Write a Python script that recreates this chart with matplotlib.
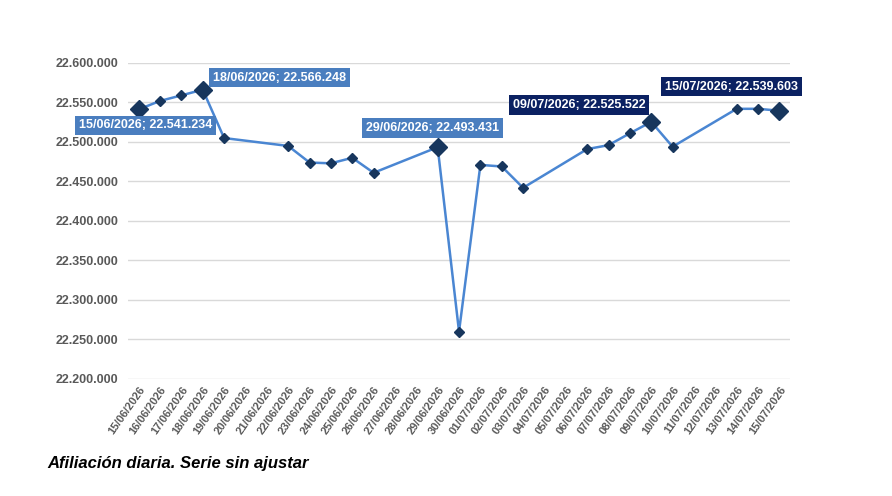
import numpy as np
import matplotlib.pyplot as plt
import datetime as dt

# data (working days only, weekends missing)
fechas = ["15/06/2026", "16/06/2026", "17/06/2026", "18/06/2026", "19/06/2026",
          "22/06/2026", "23/06/2026", "24/06/2026", "25/06/2026", "26/06/2026",
          "29/06/2026", "30/06/2026", "01/07/2026", "02/07/2026", "03/07/2026",
          "06/07/2026", "07/07/2026", "08/07/2026", "09/07/2026", "10/07/2026",
          "13/07/2026", "14/07/2026", "15/07/2026"]
afiliados = [22541234, 22552000, 22559000, 22566248, 22505000,
             22495000, 22474000, 22473000, 22480000, 22461000,
             22493431, 22260000, 22471000, 22469000, 22442000,
             22491000, 22496000, 22511000, 22525522, 22494000,
             22542000, 22542000, 22539603]

# every calendar day is a category on the axis
inicio = dt.date(2026, 6, 15)
dias = [inicio + dt.timedelta(days=k) for k in range(31)]
etiquetas_x = [d.strftime("%d/%m/%Y") for d in dias]
pos = [etiquetas_x.index(f) for f in fechas]

# highlighted points: (fecha, box colour, offset in px)
destacados = [("15/06/2026", "#4A7EBF", (7, -16)),
              ("18/06/2026", "#4A7EBF", (77, 12)),
              ("29/06/2026", "#4A7EBF", (-5, 19)),
              ("09/07/2026", "#0B2162", (-72, 17)),
              ("15/07/2026", "#0B2162", (-48, 24))]

plt.rcParams['font.family'] = ['Liberation Sans', 'DejaVu Sans']

fig = plt.figure(figsize=(8.92, 4.96), dpi=100)
ax = fig.add_axes([0.1435, 0.2359, 0.7422, 0.6371])

ax.plot(pos, afiliados, color="#4A86D2", lw=1.8, zorder=2)
ax.plot(pos, afiliados, ls="none", marker="D", ms=5, color="#17365D", zorder=3)

for f, col, off in destacados:
    i = fechas.index(f)
    ax.plot(pos[i], afiliados[i], marker="D", ms=9, color="#17365D", zorder=4)
    txt = f + "; " + f"{afiliados[i]:,}".replace(",", ".")
    ax.annotate(txt, (pos[i], afiliados[i]), xytext=off, textcoords="offset pixels",
                ha="center", va="center", color="white", fontsize=9, fontweight="bold",
                bbox=dict(boxstyle="square,pad=0.3", fc=col, ec="none"), zorder=5)

ax.set_xlim(-0.5, 30.5)
ax.set_ylim(22200000, 22600000)
ax.set_yticks(np.arange(22200000, 22600001, 50000))
ax.set_yticklabels([f"{int(v):,}".replace(",", ".") for v in ax.get_yticks()])
ax.set_xticks(range(31))
ax.set_xticklabels(etiquetas_x, rotation=55, ha="right", va="top", rotation_mode="anchor",
                   family=['Liberation Sans Narrow', 'Liberation Sans'])

ax.grid(axis="y", color="#D9D9D9", lw=1)
ax.set_axisbelow(True)
for s in ax.spines.values():
    s.set_visible(False)
ax.tick_params(length=0, colors="#595959")
ax.tick_params(axis="y", labelsize=9, pad=7)
ax.tick_params(axis="x", labelsize=8, pad=4)
for t in ax.get_xticklabels() + ax.get_yticklabels():
    t.set_fontweight("bold")

fig.text(0.053, 0.066, "Afiliación diaria. Serie sin ajustar", fontsize=12,
         fontweight="bold", fontstyle="italic", color="black", va="center")

fig.savefig("out.png", dpi=100)
